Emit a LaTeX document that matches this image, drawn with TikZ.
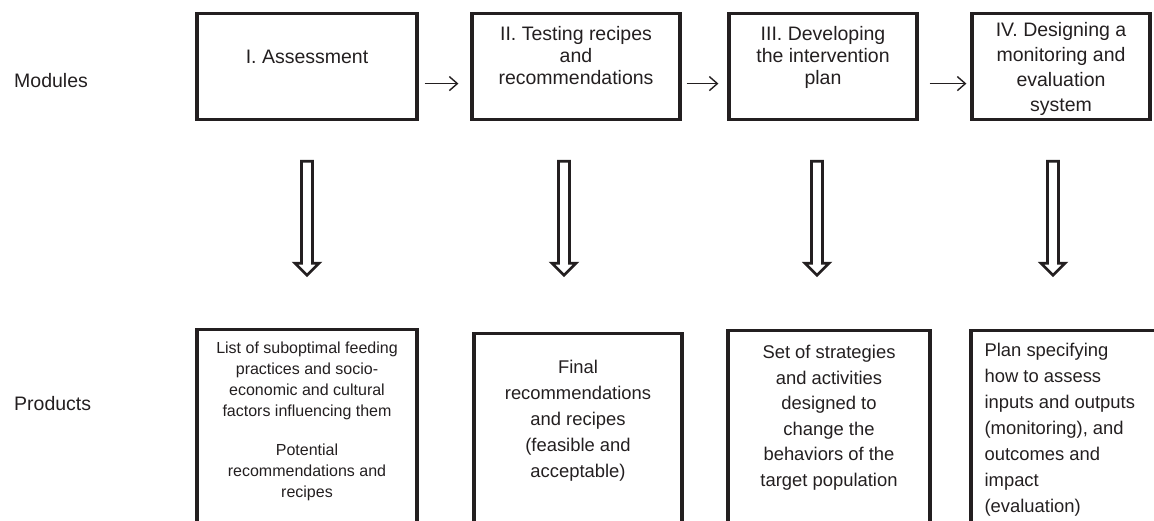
\documentclass[tikz,border=0pt]{standalone}
\usepackage{fontspec}
\setmainfont{Liberation Sans}
\usetikzlibrary{positioning,calc,arrows.meta}
\definecolor{ink}{HTML}{231F20}
\tikzset{
  module/.style={draw=ink, line width=3.2pt, inner sep=0pt, anchor=north},
  boxtext/.style={inner sep=0pt, align=center, text=ink},
  rowname/.style={inner sep=0pt, anchor=west, text=ink, font=\fontsize{19.5}{22}\selectfont},
  flow/.style={draw=ink, line width=1.4pt, -{Straight Barb[length=8pt,width=14pt,line width=1.4pt]}},
  hollow/.style={draw=ink, line width=2.7pt, fill=white, line join=miter}
}
\begin{document}
\begin{tikzpicture}[x=1pt,y=-1pt]
\useasboundingbox (0,0) rectangle (1154,521);
\clip (0,0) rectangle (1154,521);

\node[rowname] (modules) at (14,81) {Modules};
\node[rowname] (products) at (14,404) {Products};

% modules
\node[module, minimum width=220pt, minimum height=106pt] (m1) at (307,12) {};
\node[module, minimum width=208pt, minimum height=106pt] (m2) at (576,12) {};
\node[module, minimum width=188pt, minimum height=106pt] (m3) at (823,12) {};
\node[module, minimum width=178pt, minimum height=106pt] (m4) at (1061,12) {};
\node[boxtext, below=38pt of m1.north, font=\fontsize{19.5}{22}\selectfont] (t1) {I. Assessment};
\node[boxtext, below=14pt of m2.north, font=\fontsize{19.5}{22}\selectfont] (t2) {II. Testing recipes\\and\\recommendations};
\node[boxtext, below=14pt of m3.north, font=\fontsize{19.5}{22}\selectfont] (t3) {III. Developing\\the intervention\\plan};
\node[boxtext, below=10pt of m4.north, font=\fontsize{19.5}{25}\selectfont] (t4) {IV. Designing a\\monitoring and\\evaluation\\system};

\draw[flow, shorten <=6pt, shorten >=12pt] ([yshift=-17pt]m1.east) -- ([yshift=-17pt]m2.west);
\draw[flow, shorten <=5pt, shorten >=9pt] ([yshift=-17pt]m2.east) -- ([yshift=-17pt]m3.west);
\draw[flow, shorten <=11pt, shorten >=4pt] ([yshift=-17pt]m3.east) -- ([yshift=-17pt]m4.west);

% products
\node[module, minimum width=220pt, minimum height=220pt] (p1) at (307,328) {};
\node[module, minimum width=208pt, minimum height=220pt] (p2) at (578,332) {};
\node[module, minimum width=202pt, minimum height=220pt] (p3) at (829,329) {};
\node[module, minimum width=210pt, minimum height=220pt] (p4) at (1076,329) {};
\node[boxtext, below=14pt of p1.north, font=\fontsize{16}{21}\selectfont] (q1) {List of suboptimal feeding\\practices and socio-\\economic and cultural\\factors influencing them\\[18pt]Potential\\recommendations and\\recipes};
\node[boxtext, below=28pt of p2.north, font=\fontsize{18.4}{26}\selectfont] (q2) {Final\\recommendations\\and recipes\\(feasible and\\acceptable)};
\node[boxtext, below=16pt of p3.north, font=\fontsize{18.4}{25.6}\selectfont] (q3) {Set of strategies\\and activities\\designed to\\change the\\behaviors of the\\target population};
\node[boxtext, align=left, below right=14pt and 15pt of p4.north west, font=\fontsize{18.4}{26}\selectfont] (q4) {Plan specifying\\how to assess\\inputs and outputs\\(monitoring), and\\outcomes and\\impact\\(evaluation)};

% hollow arrows from modules to products
\coordinate (dn1) at ($(m1.south)+(0,40)$);
\coordinate (dn2) at ($(m2.south)+(-12,40)$);
\coordinate (dn3) at ($(m3.south)+(-6,40)$);
\coordinate (dn4) at ($(m4.south)+(-8,40)$);
\draw[hollow] ($(dn1)+(-5.5,0)$) -- ++(11,0) -- ++(0,102) -- ++(6.5,0) -- ++(-12,12) -- ++(-12,-12) -- ++(6.5,0) -- cycle;
\draw[hollow] ($(dn2)+(-5.5,0)$) -- ++(11,0) -- ++(0,102) -- ++(6.5,0) -- ++(-12,12) -- ++(-12,-12) -- ++(6.5,0) -- cycle;
\draw[hollow] ($(dn3)+(-5.5,0)$) -- ++(11,0) -- ++(0,102) -- ++(6.5,0) -- ++(-12,12) -- ++(-12,-12) -- ++(6.5,0) -- cycle;
\draw[hollow] ($(dn4)+(-5.5,0)$) -- ++(11,0) -- ++(0,102) -- ++(6.5,0) -- ++(-12,12) -- ++(-12,-12) -- ++(6.5,0) -- cycle;
\end{tikzpicture}
\end{document}
